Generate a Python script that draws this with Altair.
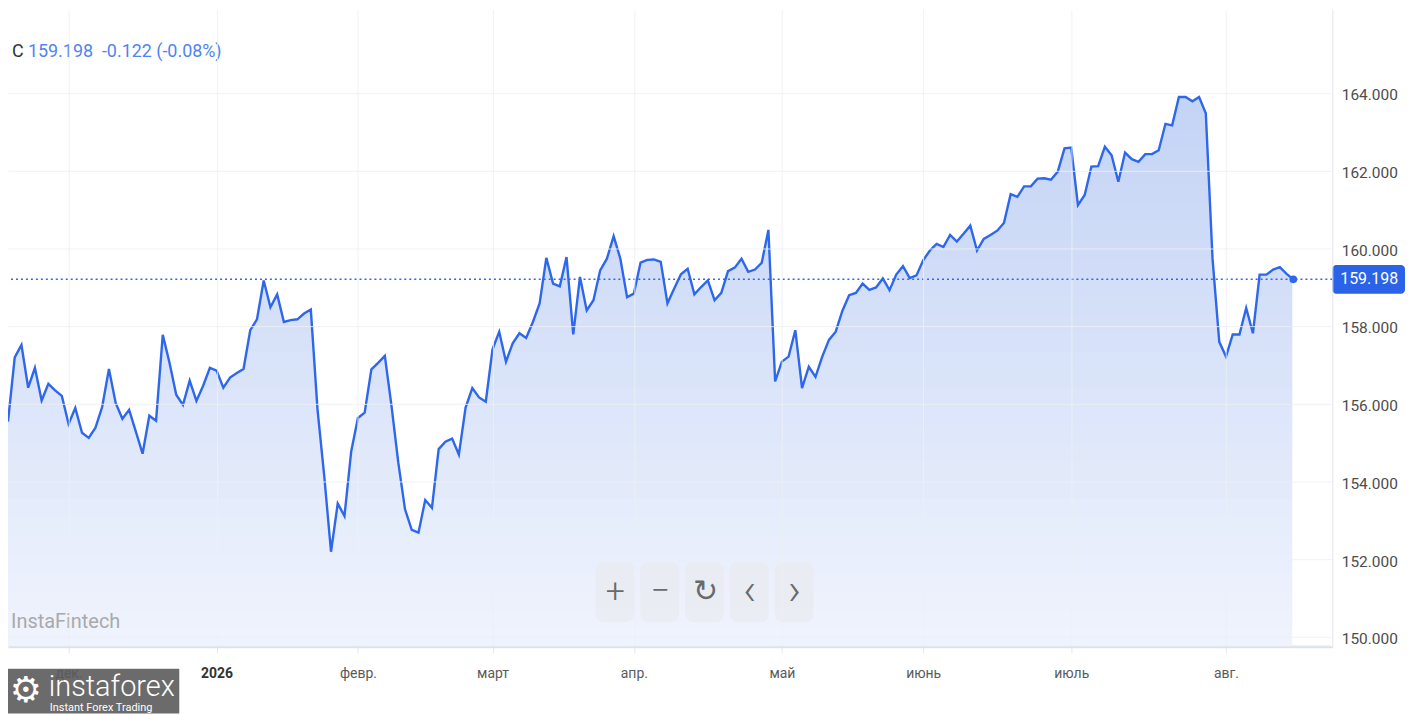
import altair as alt
import pandas as pd

# ---- data ----
prices = [
    155.54, 157.19, 157.51, 156.41, 156.92, 156.08, 156.51, 156.34, 156.20, 155.48,
    155.89, 155.25, 155.12, 155.38, 155.92, 156.89, 156.02, 155.61, 155.84, 155.28,
    154.71, 155.69, 155.56, 157.77, 157.05, 156.23, 155.97, 156.59, 156.07, 156.46,
    156.92, 156.85, 156.41, 156.67, 156.79, 156.89, 157.89, 158.17, 159.17, 158.48,
    158.81, 158.10, 158.15, 158.17, 158.32, 158.42, 155.84, 154.13, 152.19, 153.43,
    153.11, 154.77, 155.63, 155.77, 156.88, 157.05, 157.23, 155.93, 154.48, 153.28,
    152.75, 152.68, 153.52, 153.32, 154.83, 155.02, 155.10, 154.69, 155.90, 156.40,
    156.16, 156.05, 157.40, 157.85, 157.08, 157.55, 157.81, 157.69, 158.10, 158.58,
    159.75, 159.09, 159.02, 159.77, 157.78, 159.26, 158.40, 158.66, 159.43, 159.73,
    160.31, 159.73, 158.74, 158.83, 159.63, 159.70, 159.71, 159.65, 158.58, 158.96,
    159.33, 159.47, 158.81, 159.00, 159.17, 158.66, 158.85, 159.41, 159.50, 159.73,
    159.39, 159.45, 159.62, 160.47, 156.57, 157.08, 157.21, 157.89, 156.40, 156.95,
    156.69, 157.21, 157.64, 157.85, 158.39, 158.79, 158.85, 159.09, 158.93, 158.99,
    159.22, 158.92, 159.32, 159.54, 159.23, 159.30, 159.69, 159.94, 160.11, 160.03,
    160.34, 160.17, 160.37, 160.58, 159.94, 160.24, 160.34, 160.45, 160.65, 161.39,
    161.32, 161.59, 161.59, 161.79, 161.80, 161.76, 161.97, 162.57, 162.59, 161.11,
    161.37, 162.10, 162.11, 162.61, 162.39, 161.71, 162.46, 162.29, 162.22, 162.42,
    162.42, 162.52, 163.20, 163.16, 163.89, 163.89, 163.78, 163.89, 163.47, 159.73,
    157.59, 157.21, 157.78, 157.78, 158.46, 157.81, 159.32, 159.32, 159.45, 159.51,
    159.34, 159.198,
]
last_price = 159.198
change_text = "159.198\u00a0\u00a0-0.122 (-0.08%)"
symbol = "C"

month_ticks = [9, 31, 52, 72, 93, 115, 136, 158, 181]
month_labels = ["дек.", "2026", "февр.", "март", "апр.", "май", "июнь", "июль", "авг."]
year_tick = 31

y_ticks = [150, 152, 154, 156, 158, 160, 162, 164]
button_glyphs = ["+", "−", "↻", "‹", "›"]

# ---- tables ----
df = pd.DataFrame({"i": list(range(len(prices))), "v": prices})
df_last = pd.DataFrame({"i": [len(prices) - 1], "v": [last_price]})
one = pd.DataFrame({"k": [0]})

BLUE = "#2d67ec"
W, H = 1330, 640
Y_LO, Y_HI = 149.744, 166.141
X_HI = 196.8
BAND_TOP = 165.4   # bands stop below the plot top, under the white mask

xscale = alt.Scale(domain=[0, X_HI], nice=False, zero=False)
yscale = alt.Scale(domain=[Y_LO, Y_HI], nice=False, zero=False)

ticks_js = "[" + ",".join(str(t) for t in month_ticks) + "]"
labels_js = "[" + ",".join("'" + s + "'" for s in month_labels) + "]"

x_axis = alt.Axis(
    values=month_ticks,
    labelExpr=f"{labels_js}[indexof({ticks_js}, datum.value)]",
    title="",
    grid=True,
    gridColor="#edf0f4",
    gridOpacity=0.85,
    domainColor="#dde1e9",
    domainWidth=2,
    tickColor="#e3e6ec",
    tickSize=6,
    labelFontSize=14,
    labelPadding=14,
    zindex=1,
    labelColor={"condition": {"test": f"datum.value === {year_tick}", "value": "#333333"}, "value": "#5a5a5a"},
    labelFontWeight={"condition": {"test": f"datum.value === {year_tick}", "value": "bold"}, "value": "normal"},
)
y_axis = alt.Axis(
    values=y_ticks,
    format=".3f",
    orient="right",
    title="",
    grid=True,
    gridColor="#edf0f4",
    gridOpacity=0.85,
    domainColor="#e3e6ec",
    ticks=False,
    labelFontSize=15.5,
    labelPadding=9,
    labelColor="#4d4d4d",
    labelOffset=2,
    zindex=1,
)

# ---- vertical colour fade under the line: overlapping solid bands + white mask ----
def mix(c_top, c_bot, f):
    a = [int(c_top[k:k + 2], 16) for k in (1, 3, 5)]
    b = [int(c_bot[k:k + 2], 16) for k in (1, 3, 5)]
    return "#" + "".join(f"{round(b[j] + (a[j] - b[j]) * f):02x}" for j in range(3))

TOP_C, BOT_C = "#c3d3f5", "#f0f4fd"
n_bands = 30
band_h = (164.0 - Y_LO) / n_bands

layers = []
for k in range(n_bands + 1):
    t = Y_LO + k * band_h
    col = mix(TOP_C, BOT_C, min(1.0, (k + 0.5) / n_bands))
    layers.append(
        alt.Chart(one).mark_rect(color=col).encode(
            x=alt.value(0), x2=alt.value(W - 2),
            y=alt.datum(t, scale=yscale), y2=alt.datum(BAND_TOP),
        )
    )

# white above the price line and right of the last point
mask = alt.Chart(df).mark_area(color="white", clip=True).encode(
    x=alt.X("i:Q", scale=xscale, axis=x_axis),
    y=alt.Y("v:Q", scale=yscale, axis=y_axis),
    y2=alt.datum(Y_HI),
)
mask_right = alt.Chart(df_last).mark_rect(color="white", xOffset=-1).encode(
    x=alt.X("i:Q", scale=xscale, axis=x_axis),
    x2=alt.datum(X_HI),
    y=alt.value(0), y2=alt.value(H - 2),
)

line = alt.Chart(df).mark_line(color=BLUE, strokeWidth=2.4, clip=True).encode(
    x=alt.X("i:Q", scale=xscale, axis=x_axis),
    y=alt.Y("v:Q", scale=yscale, axis=y_axis),
)
rule = alt.Chart(df_last).mark_rule(color=BLUE, strokeDash=[2, 3], strokeWidth=1.5).encode(
    y=alt.Y("v:Q", scale=yscale, axis=y_axis)
)
dot = alt.Chart(df_last).mark_point(filled=True, color=BLUE, size=60, opacity=1).encode(
    x=alt.X("i:Q", scale=xscale, axis=x_axis),
    y=alt.Y("v:Q", scale=yscale, axis=y_axis),
)
price_box = alt.Chart(df_last).transform_calculate(
    lo="datum.v - 0.37", hi="datum.v + 0.37"
).mark_rect(color="#2b63e8", cornerRadius=4).encode(
    x=alt.value(W), x2=alt.value(W + 73),
    y=alt.Y("lo:Q", scale=yscale, axis=y_axis), y2="hi:Q",
)
price_text = alt.Chart(df_last).mark_text(
    color="white", fontSize=16, align="center", baseline="middle"
).encode(
    x=alt.value(W + 37),
    y=alt.Y("v:Q", scale=yscale, axis=y_axis),
    text=alt.Text("v:Q", format=".3f"),
)

layers += [mask, mask_right, line, rule, dot]

# zoom buttons
glyph_size = [34, 34, 30, 44, 44]
glyph_font = ["Roboto", "Roboto", "DejaVu Sans", "Roboto", "Roboto"]
for k, g in enumerate(button_glyphs):
    x0 = 590 + 45 * k
    layers.append(
        alt.Chart(one).mark_rect(color="#e8ebf0", opacity=0.7, cornerRadius=8).encode(
            x=alt.value(x0), x2=alt.value(x0 + 39), y=alt.value(555), y2=alt.value(615)
        )
    )
    layers.append(
        alt.Chart(one).mark_text(
            text=g, fontSize=glyph_size[k], color="#6a6a6a", align="center", baseline="middle",
            font=glyph_font[k], fontWeight=300,
        ).encode(x=alt.value(x0 + 20), y=alt.value(585))
    )

watermark = alt.Chart(one).mark_text(
    text="InstaFintech", fontSize=20, color="#a9a9a9", align="left", baseline="middle"
).encode(x=alt.value(3), y=alt.value(615))

title_c = alt.Chart(one).mark_text(
    text=symbol, fontSize=18, color="#333333", align="left", baseline="middle"
).encode(x=alt.value(4), y=alt.value(43))
title_v = alt.Chart(one).mark_text(
    text=change_text, fontSize=18, color="#4f84f2", align="left", baseline="middle"
).encode(x=alt.value(20), y=alt.value(43))

logo_box = alt.Chart(one).mark_rect(color="#6b6b6b").encode(
    x=alt.value(0), x2=alt.value(172), y=alt.value(662), y2=alt.value(707)
)
logo_gear = alt.Chart(one).mark_text(
    text="⚙", fontSize=36, color="white", align="center", baseline="middle", font="DejaVu Sans"
).encode(x=alt.value(18), y=alt.value(684))
logo_name = alt.Chart(one).mark_text(
    text="instaforex", fontSize=29, fontWeight=300, color="white", align="left", baseline="alphabetic"
).encode(x=alt.value(41), y=alt.value(689))
logo_tag = alt.Chart(one).mark_text(
    text="Instant Forex Trading", fontSize=11, color="white", align="left", baseline="alphabetic"
).encode(x=alt.value(42), y=alt.value(704))

layers += [watermark, title_c, title_v, price_box, price_text, logo_box, logo_gear, logo_name, logo_tag]

chart = alt.layer(*layers).properties(
    width=W,
    height=H,
    padding={"left": 0, "top": 0, "right": 75, "bottom": 67},
    autosize=alt.AutoSizeParams(type="none"),
).configure(
    font="Roboto",
    background="white",
).configure_view(stroke="transparent")

chart.save("out.html", embed_options={"renderer": "svg", "actions": False})
